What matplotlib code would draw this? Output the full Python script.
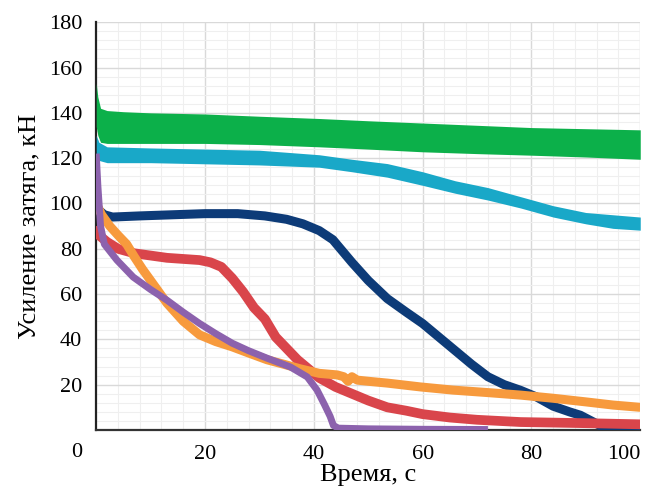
import matplotlib.pyplot as plt
from matplotlib.ticker import MultipleLocator

# Данные (время, с -> усиление затяга, кН)
green_t = [0, 0.3, 0.8, 2, 5, 10, 20, 30, 41, 50, 60, 70, 80, 90, 100]
green_hi = [153, 147, 142, 141, 140.5, 140, 139.5, 138.5, 137.5, 136.5, 135.5, 134.5, 133.5, 133, 132.5]
green_lo = [134, 130, 127, 126.5, 126.5, 126.5, 126.5, 126, 125, 124, 122.8, 122, 121.3, 120.5, 119.5]

cyan_t = [0, 0.5, 2, 10, 20, 30, 41, 47, 53.5, 60, 66, 72, 78, 84, 90, 95, 100]
cyan_hi = [130, 127, 125, 124.5, 124, 123.5, 121.5, 119.5, 117.6, 114, 110, 107, 103, 99, 96, 95, 94]
cyan_lo = [122, 119, 118, 118, 117.5, 117, 116, 114, 111.6, 108, 104.5, 101.5, 98, 94, 91, 89, 88.2]

navy_t = [0, 0.5, 1.5, 3, 8, 14, 20, 26, 31, 35, 38, 41, 43.5, 47, 50, 53.5, 57, 60, 63, 66,
          69, 72, 75, 78, 81, 84, 87, 89, 91, 93, 95, 100]
navy_v = [100, 97, 95, 94, 94.5, 95, 95.5, 95.5, 94.5, 93, 91, 88, 84, 74, 66, 58, 52, 47, 41, 35,
          29, 23.5, 20, 17.5, 14.5, 10.5, 8, 6.5, 4, 1.5, 0.5, 0.5]

red_t = [0, 0.5, 2, 4, 7, 10, 13, 16, 19, 21, 23, 25, 27, 29, 31, 33, 35, 37, 39, 41, 44, 47,
         50, 53.5, 57, 60, 65, 70, 78, 90, 100]
red_v = [90, 86, 83, 80, 78, 77, 76, 75.5, 75, 74, 72, 67, 61, 54, 49, 41, 36, 31, 27, 23, 19, 16,
         13, 10, 8.5, 7, 5.5, 4.5, 3.5, 3, 2.5]

orange_t = [0, 1, 2.5, 4, 5.6, 7, 8.5, 10, 13, 16, 19, 22, 25, 28, 31.4, 34.5, 37.5, 41, 44.3, 45.5,
            46.3, 47, 48, 50, 53.5, 59.6, 65.6, 72, 78, 84, 90, 95, 100]
orange_v = [100, 95, 90, 86, 82, 76.5, 71, 66, 56, 48, 42, 39, 36.7, 34, 31, 29, 27, 25, 24.3, 23.5,
            21.5, 23.5, 22, 21.5, 20.7, 19, 17.6, 16.5, 15.4, 14, 12.4, 11, 10]

purple_t = [0, 0.3, 0.8, 1.5, 3.8, 6.8, 10, 13, 16, 19, 22, 25, 28, 31.4, 35.7, 38.8, 40.6, 42,
            43, 43.6, 44.5, 50, 60, 72]
purple_v = [122, 108, 90, 82, 75, 67.5, 62, 57.3, 52, 47, 42.5, 38.3, 35, 31.7, 27.8, 23.4, 17.6,
            11, 6, 2, 0.8, 0.5, 0.3, 0.2]

x_ticks = [20, 40, 60, 80, 100]
y_ticks = [20, 40, 60, 80, 100, 120, 140, 160, 180]

plt.rcParams['font.family'] = ['Liberation Serif', 'DejaVu Serif']

fig = plt.figure(figsize=(6.5, 4.94), dpi=100)
ax = fig.add_axes([0.148, 0.1296, 0.837, 0.8254])

# Полосы (зелёная и голубая)
ax.fill_between(green_t, green_lo, green_hi, color='#0cb04a', lw=0, zorder=3)
ax.fill_between(cyan_t, cyan_lo, cyan_hi, color='#19a8c8', lw=0, zorder=3)

# Линии
ax.plot(navy_t, navy_v, color='#0d3b78', lw=6.5, solid_capstyle='butt', solid_joinstyle='round', zorder=4)
ax.plot(red_t, red_v, color='#d9454b', lw=7.0, solid_capstyle='butt', solid_joinstyle='round', zorder=4)
ax.plot(orange_t, orange_v, color='#f79a3d', lw=6.5, solid_capstyle='butt', solid_joinstyle='round', zorder=5)
ax.plot(purple_t, purple_v, color='#8c62ad', lw=5.0, solid_capstyle='butt', solid_joinstyle='round', zorder=6)

ax.set_xlim(0, 100)
ax.set_ylim(0, 180)
ax.set_xticks(x_ticks)
ax.set_yticks(y_ticks)
ax.xaxis.set_minor_locator(MultipleLocator(4))
ax.yaxis.set_minor_locator(MultipleLocator(4))
ax.grid(which='major', color='#d9d9d9', lw=1.0, zorder=0)
ax.grid(which='minor', color='#efefef', lw=0.8, zorder=0)
ax.set_axisbelow(True)

ax.tick_params(which='both', length=0, labelsize=16)
ax.tick_params(axis='x', pad=11)
ax.tick_params(axis='y', pad=10)
# последняя подпись «100» прижата к правому краю
ax.get_xticklabels()[-1].set_horizontalalignment('right')

for s in ['top', 'right']:
    ax.spines[s].set_visible(False)
ax.spines['left'].set_color('#222222')
ax.spines['left'].set_linewidth(1.6)
ax.spines['bottom'].set_color('#333333')
ax.spines['bottom'].set_linewidth(1.6)

# Отдельная подпись «0» в левом нижнем углу
fig.text(82 / 650, 1 - 452 / 494, '0', fontsize=16, ha='right', va='center')

ax.set_xlabel('Время, с', fontsize=19, labelpad=0)
ax.set_ylabel('Усиление затяга, кН', fontsize=19, labelpad=6)

fig.savefig('out.png', dpi=100)
